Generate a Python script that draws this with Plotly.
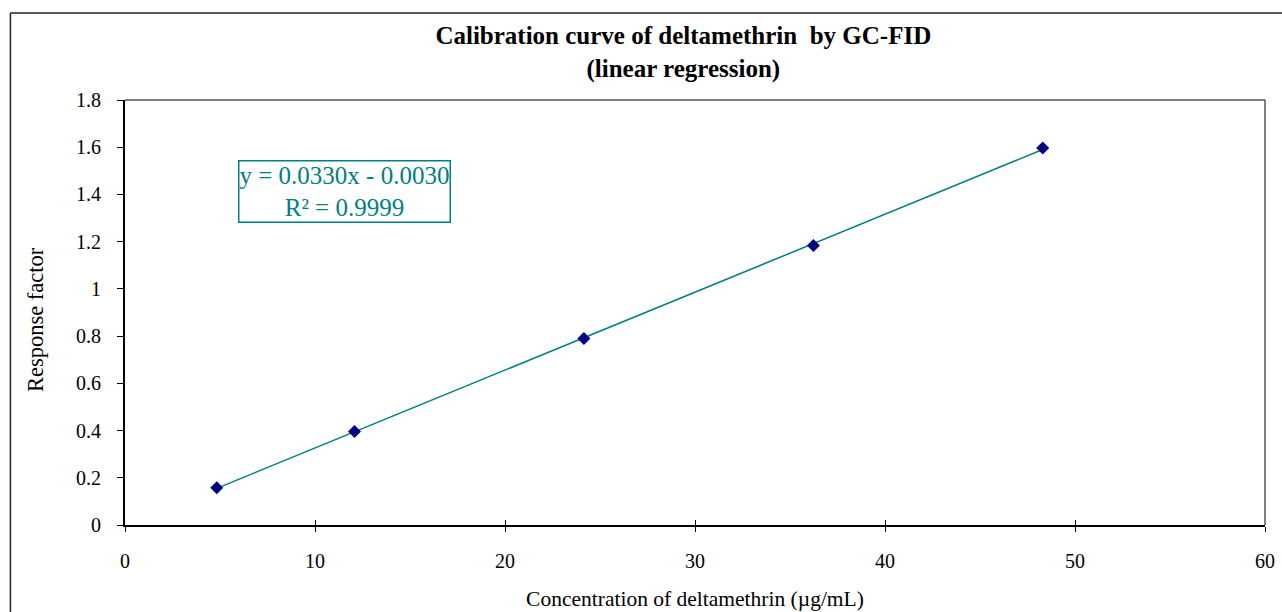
import numpy as np
import plotly.graph_objects as go

conc = [4.83, 12.08, 24.15, 36.23, 48.30]
resp = [0.158, 0.396, 0.790, 1.184, 1.597]
x_ticks = [0, 10, 20, 30, 40, 50, 60]
y_ticks = [0, 0.2, 0.4, 0.6, 0.8, 1, 1.2, 1.4, 1.6, 1.8]
eq_text = "y = 0.0330x - 0.0030<br>R² = 0.9999"

slope, intercept = np.polyfit(conc, resp, 1)
fit_x = np.array([min(conc), max(conc)])
fit_y = slope * fit_x + intercept

FONT = "Liberation Serif, Times New Roman, serif"
TEAL = "#008080"
NAVY = "#000080"

fig = go.Figure()
fig.add_trace(go.Scatter(x=fit_x, y=fit_y, mode="lines",
                         line=dict(color=TEAL, width=1.5), showlegend=False,
                         hoverinfo="skip"))
fig.add_trace(go.Scatter(x=conc, y=resp, mode="markers",
                         marker=dict(symbol="diamond", color=NAVY, size=10,
                                     line=dict(width=0)),
                         showlegend=False))
fig.add_trace(go.Scatter(x=conc, y=resp, xaxis="x2", mode="markers",
                         marker=dict(opacity=0), showlegend=False, hoverinfo="skip"))

frame_line = dict(color="#222222", width=1.5)
fig.update_layout(
    width=1282, height=612,
    margin=dict(l=125, r=17, t=100, b=87, autoexpand=False),
    paper_bgcolor="white", plot_bgcolor="white",
    font=dict(family=FONT, size=20, color="black"),
    title=dict(text="<b>Calibration curve of deltamethrin  by GC-FID<br>(linear regression)</b>",
               x=0.533, xanchor="center", y=0.928, yanchor="top",
               font=dict(family=FONT, size=25, color="black")),
    xaxis=dict(range=[0, 60], tickvals=x_ticks, showgrid=False, zeroline=False,
               showline=True, linecolor="black", linewidth=2,
               ticks="outside", ticklen=5, tickwidth=1, tickcolor="black",
               ticklabelstandoff=12, automargin=False,
               title=dict(text="Concentration of deltamethrin (µg/mL)",
                          font=dict(family=FONT, size=21.5), standoff=20)),
    xaxis2=dict(overlaying="x", matches="x", range=[0, 60], tickvals=x_ticks[1:],
                showticklabels=False, showgrid=False, zeroline=False,
                ticks="inside", ticklen=5, tickwidth=1, tickcolor="black",
                side="bottom", showline=False, automargin=False),
    yaxis=dict(range=[0, 1.8], tickvals=y_ticks, showgrid=False, zeroline=False,
               showline=True, linecolor="black", linewidth=2,
               ticks="outside", ticklen=6, tickwidth=1, tickcolor="black",
               ticklabelstandoff=12, automargin=False),
    shapes=[
        dict(type="line", xref="paper", yref="paper", x0=0, x1=1, y0=1, y1=1,
             line=dict(color="black", width=1)),
        dict(type="line", xref="paper", yref="paper", x0=1, x1=1, y0=0, y1=1,
             line=dict(color="black", width=1)),
        dict(type="line", xref="paper", yref="paper",
             x0=-0.1005, x1=1.5, y0=1.205, y1=1.205, line=frame_line),
        dict(type="line", xref="paper", yref="paper",
             x0=-0.1005, x1=-0.1005, y0=-0.4, y1=1.205, line=frame_line),
    ],
    annotations=[
        dict(xref="paper", yref="paper", x=(344.5 - 125) / 1140, y=(525 - 191) / 425,
             xanchor="center", yanchor="middle", showarrow=False,
             text=eq_text,
             font=dict(family=FONT, size=25, color=TEAL),
             bordercolor=TEAL, borderwidth=1.5, borderpad=0, bgcolor="white",
             align="center"),
        dict(xref="paper", yref="paper", x=(35 - 125) / 1140, y=(525 - 320) / 425,
             xanchor="center", yanchor="middle", showarrow=False,
             text="Response factor", textangle=-90,
             font=dict(family=FONT, size=22.5, color="black")),
    ],
)

fig.write_html("out.html")
